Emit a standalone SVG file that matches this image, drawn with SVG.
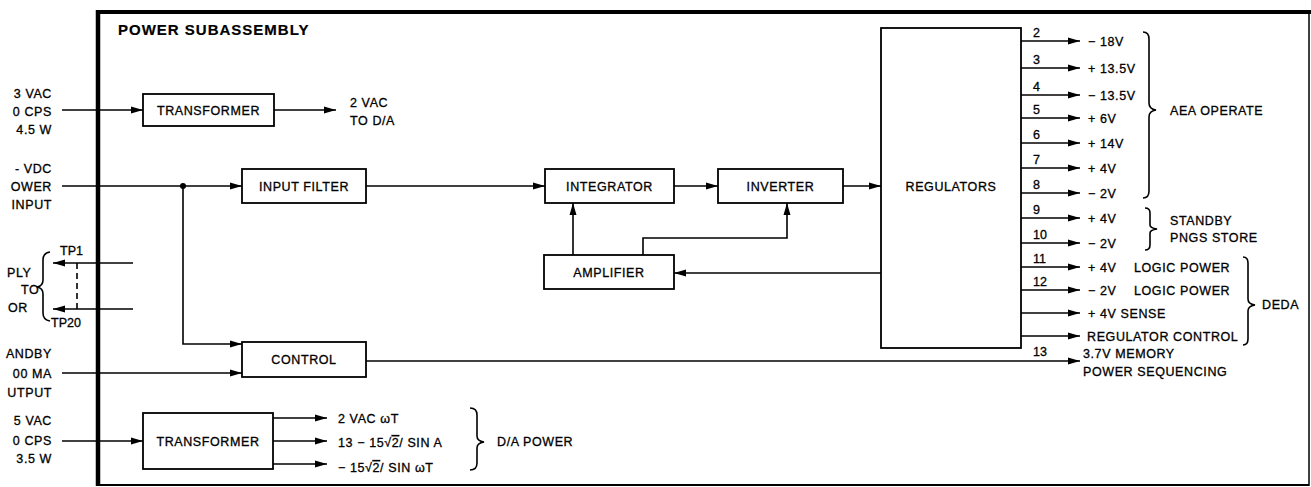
<svg xmlns="http://www.w3.org/2000/svg" width="1311" height="487" viewBox="0 0 1311 487">
<style>
text{font-family:"Liberation Sans",Arial,sans-serif;font-size:12.5px;letter-spacing:0.6px;fill:#000;stroke:#000;stroke-width:0.3px}
.t{font-weight:bold;font-size:15px;letter-spacing:1px;stroke-width:0.2px}
.n{font-size:12.5px;letter-spacing:0}
.box{fill:#fff;stroke:#000;stroke-width:1.8}
.ln{fill:none;stroke:#000;stroke-width:1.6}
.br{fill:none;stroke:#000;stroke-width:1.6}
.c{text-anchor:middle}
.e{text-anchor:end}
</style>
<defs>
<marker id="ah" viewBox="0 0 12 8" refX="12" refY="4" markerWidth="12" markerHeight="8" markerUnits="userSpaceOnUse" orient="auto">
<path d="M0,0.5 L12,4 L0,7.5 z" fill="#000"/>
</marker>
</defs>

<g id="frame">
<line x1="98" y1="10" x2="98" y2="486" stroke="#000" stroke-width="4.5"/>
<line x1="96" y1="12" x2="1311" y2="12" stroke="#000" stroke-width="4"/>
<line x1="1309" y1="12" x2="1309" y2="486" stroke="#000" stroke-width="1.5"/>
<line x1="98" y1="485" x2="1309" y2="485" stroke="#000" stroke-width="2"/>
<text class="t" x="118" y="35">POWER SUBASSEMBLY</text>
</g>

<g id="connectors">
<path class="ln" d="M62,110 H143" marker-end="url(#ah)"/>
<path class="ln" d="M274,110 H336" marker-end="url(#ah)"/>
<path class="ln" d="M62,186 H242" marker-end="url(#ah)"/>
<circle cx="183" cy="186" r="3" fill="#000"/>
<path class="ln" d="M183,186 V344 H242" marker-end="url(#ah)"/>
<path class="ln" d="M366,186 H545" marker-end="url(#ah)"/>
<path class="ln" d="M674,186 H718" marker-end="url(#ah)"/>
<path class="ln" d="M843,186 H881" marker-end="url(#ah)"/>
<path class="ln" d="M573,255 V203" marker-end="url(#ah)"/>
<path class="ln" d="M643,255 V238 H787 V203" marker-end="url(#ah)"/>
<path class="ln" d="M881,273 H674" marker-end="url(#ah)"/>
<path class="ln" d="M133,263 H53" marker-end="url(#ah)"/>
<path class="ln" d="M133,309 H53" marker-end="url(#ah)"/>
<path class="ln" d="M77,263 V309" stroke-dasharray="6,4"/>
<path class="ln" d="M62,373 H242" marker-end="url(#ah)"/>
<path class="ln" d="M366,361 H1080" marker-end="url(#ah)"/>
<path class="ln" d="M62,441 H143" marker-end="url(#ah)"/>
<path class="ln" d="M273,418 H327" marker-end="url(#ah)"/>
<path class="ln" d="M273,441 H327" marker-end="url(#ah)"/>
<path class="ln" d="M273,464 H327" marker-end="url(#ah)"/>
<path class="ln" d="M1021,41 H1080" marker-end="url(#ah)"/>
<path class="ln" d="M1021,68 H1080" marker-end="url(#ah)"/>
<path class="ln" d="M1021,95 H1080" marker-end="url(#ah)"/>
<path class="ln" d="M1021,118 H1080" marker-end="url(#ah)"/>
<path class="ln" d="M1021,143 H1080" marker-end="url(#ah)"/>
<path class="ln" d="M1021,168 H1080" marker-end="url(#ah)"/>
<path class="ln" d="M1021,193 H1080" marker-end="url(#ah)"/>
<path class="ln" d="M1021,218 H1080" marker-end="url(#ah)"/>
<path class="ln" d="M1021,243 H1080" marker-end="url(#ah)"/>
<path class="ln" d="M1021,267 H1080" marker-end="url(#ah)"/>
<path class="ln" d="M1021,290 H1080" marker-end="url(#ah)"/>
<path class="ln" d="M1021,313 H1080" marker-end="url(#ah)"/>
<path class="ln" d="M1021,336 H1080" marker-end="url(#ah)"/>
</g>

<g id="transformer-top">
<rect class="box" x="143" y="94" width="131" height="32"/>
<text class="c" x="208.5" y="115">TRANSFORMER</text>
</g>
<g id="input-filter">
<rect class="box" x="242" y="169" width="124" height="34"/>
<text class="c" x="304" y="191">INPUT FILTER</text>
</g>
<g id="integrator">
<rect class="box" x="545" y="169" width="129" height="34"/>
<text class="c" x="609.5" y="191">INTEGRATOR</text>
</g>
<g id="inverter">
<rect class="box" x="718" y="169" width="125" height="34"/>
<text class="c" x="780.5" y="191">INVERTER</text>
</g>
<g id="amplifier">
<rect class="box" x="544" y="255" width="130" height="34"/>
<text class="c" x="609" y="277">AMPLIFIER</text>
</g>
<g id="regulators">
<rect class="box" x="881" y="28" width="140" height="320"/>
<text class="c" x="951" y="191">REGULATORS</text>
</g>
<g id="control">
<rect class="box" x="242" y="342" width="124" height="35"/>
<text class="c" x="304" y="364">CONTROL</text>
</g>
<g id="transformer-bottom">
<rect class="box" x="143" y="413" width="130" height="56"/>
<text class="c" x="208" y="446">TRANSFORMER</text>
</g>

<g id="input-labels">
<text class="e" x="52" y="98">3 VAC</text>
<text class="e" x="52" y="116">0 CPS</text>
<text class="e" x="52" y="134">4.5 W</text>
<text x="350" y="107">2 VAC</text>
<text x="350" y="125">TO D/A</text>
<text class="e" x="52" y="173">- VDC</text>
<text class="e" x="52" y="191">OWER</text>
<text class="e" x="52" y="209">INPUT</text>
<text x="7" y="277">PLY</text>
<text x="21" y="294">TO</text>
<text x="8" y="312">OR</text>
<text class="n" x="60" y="255">TP1</text>
<text class="n" x="51" y="327">TP20</text>
<path class="br" d="M50,252 Q43,253 43,260 L43,280 Q43,286 37,287 Q43,288 43,294 L43,313 Q43,320 50,321"/>
<text class="e" x="52" y="358">ANDBY</text>
<text class="e" x="52" y="378">00 MA</text>
<text class="e" x="52" y="397">UTPUT</text>
<text class="e" x="52" y="425">5 VAC</text>
<text class="e" x="52" y="445">0 CPS</text>
<text class="e" x="52" y="463">3.5 W</text>
</g>

<g id="da-power">
<text x="338" y="423">2 VAC  ωT</text>
<text x="338" y="447">13 −  15√<tspan style="text-decoration:overline">2</tspan>/ SIN A</text>
<text x="338" y="472">− 15√<tspan style="text-decoration:overline">2</tspan>/ SIN  ωT</text>
<path class="br" d="M470,408 Q477,408 477,415 L477,436 Q477,441 484,442 Q477,443 477,448 L477,463 Q477,470 470,470"/>
<text x="497" y="446">D/A POWER</text>
</g>

<g id="outputs">
<text class="n" x="1033" y="37">2</text>
<text class="n" x="1033" y="64">3</text>
<text class="n" x="1033" y="91">4</text>
<text class="n" x="1033" y="114">5</text>
<text class="n" x="1033" y="139">6</text>
<text class="n" x="1033" y="164">7</text>
<text class="n" x="1033" y="189">8</text>
<text class="n" x="1033" y="214">9</text>
<text class="n" x="1033" y="239">10</text>
<text class="n" x="1033" y="263">11</text>
<text class="n" x="1033" y="286">12</text>
<text class="n" x="1033" y="356">13</text>
<text x="1088" y="46">− 18V</text>
<text x="1088" y="73">+ 13.5V</text>
<text x="1088" y="100">− 13.5V</text>
<text x="1088" y="123">+ 6V</text>
<text x="1088" y="148">+ 14V</text>
<text x="1088" y="173">+ 4V</text>
<text x="1088" y="198">− 2V</text>
<text x="1088" y="223">+ 4V</text>
<text x="1088" y="248">− 2V</text>
<text x="1088" y="272">+ 4V<tspan x="1134">LOGIC POWER</tspan></text>
<text x="1088" y="295">− 2V<tspan x="1134">LOGIC POWER</tspan></text>
<text x="1088" y="318">+ 4V SENSE</text>
<text x="1087" y="341">REGULATOR CONTROL</text>
<text x="1083" y="358">3.7V MEMORY</text>
<text x="1083" y="376">POWER SEQUENCING</text>
<path class="br" d="M1143,32 Q1149,32 1149,39 L1149,103 Q1149,109 1156,110 Q1149,111 1149,117 L1149,191 Q1149,198 1143,198"/>
<text x="1170" y="115">AEA OPERATE</text>
<path class="br" d="M1145,208 Q1150,208 1150,213 L1150,225 Q1150,228 1157,229 Q1150,230 1150,233 L1150,245 Q1150,250 1145,250"/>
<text x="1170" y="225">STANDBY</text>
<text x="1170" y="242">PNGS STORE</text>
<path class="br" d="M1243,257 Q1248,257 1248,263 L1248,299 Q1248,304 1255,305 Q1248,306 1248,311 L1248,339 Q1248,345 1243,345"/>
<text x="1262" y="309">DEDA</text>
</g>
</svg>
